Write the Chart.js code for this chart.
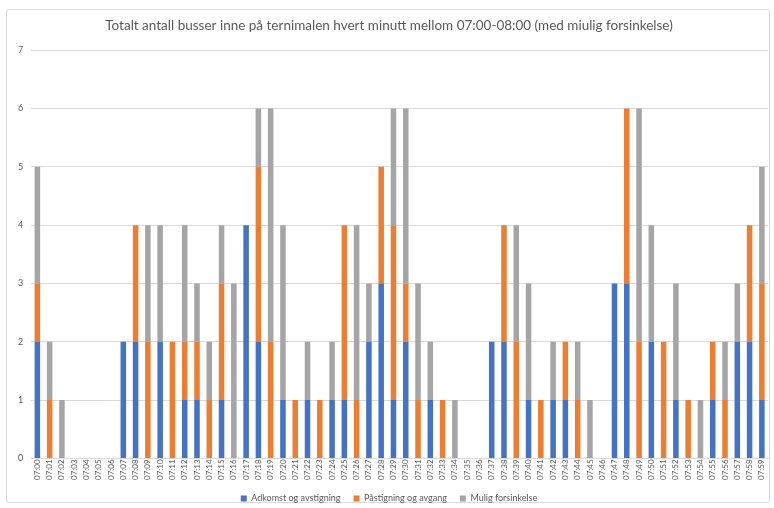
<!DOCTYPE html>
<html>
<head>
<meta charset="utf-8">
<script src="https://cdn.jsdelivr.net/npm/chart.js@4"></script>
<style>
  html, body { margin: 0; padding: 0; background: #fff; }
  #wrap { position: relative; width: 774px; height: 508px; }
  #frame { position: absolute; left: 6px; top: 9px; width: 764px; height: 494px;
           border: 1px solid #d9d9d9; border-radius: 3px; box-sizing: border-box; }
  #myChart { position: absolute; left: 0; top: 0; }
</style>
</head>
<body>
<div id="wrap">
  <div id="frame"></div>
  <canvas id="myChart" width="774" height="508"></canvas>
</div>
<script>
// minutes 07:00 .. 07:59
var minutes = [];
for (var m = 0; m < 60; m++) {
    minutes.push('07:' + (m < 10 ? '0' + m : m));
}

var adkomst = [2,0,0,0,0,0,0,2,2,0, 2,0,1,1,0,1,0,4,2,0,
               1,0,1,0,1,1,0,2,3,1, 2,0,1,0,0,0,0,2,2,0,
               1,0,1,1,0,0,0,3,3,0, 2,0,1,0,0,1,0,2,2,1];
var pastigning = [1,1,0,0,0,0,0,0,2,2, 0,2,1,1,1,2,0,0,3,2,
                  0,1,0,1,0,3,1,0,2,3, 1,1,0,1,0,0,0,0,2,2,
                  0,1,0,1,1,0,0,0,3,2, 0,2,0,1,0,1,1,0,2,2];
var forsinkelse = [2,1,1,0,0,0,0,0,0,2, 2,0,2,1,1,1,3,0,1,4,
                   3,0,1,0,1,0,3,1,0,2, 3,2,1,0,1,0,0,0,0,2,
                   2,0,1,0,1,1,0,0,0,4, 2,0,2,0,1,0,1,1,0,2];
var yTicks = [0, 1, 2, 3, 4, 5, 6, 7];

var ctx = document.getElementById('myChart').getContext('2d');
Chart.defaults.font.family = 'Lato, "Liberation Sans", sans-serif';
Chart.defaults.color = '#595959';

// keep the legend box short so it sits close under the axis labels
var legendHeight = {
    id: 'legendHeight',
    beforeInit: function (chart) {
        var fit = chart.legend.fit;
        chart.legend.fit = function () {
            fit.call(this);
            this.height = 27;
        };
    }
};

new Chart(ctx, {
    type: 'bar',
    data: {
        labels: minutes,
        datasets: [
            { label: 'Adkomst og avstigning', data: adkomst, backgroundColor: '#4472C4' },
            { label: 'Påstigning og avgang', data: pastigning, backgroundColor: '#ED7D31' },
            { label: 'Mulig forsinkelse', data: forsinkelse, backgroundColor: '#A5A5A5' }
        ]
    },
    options: {
        responsive: false,
        animation: false,
        layout: { padding: { left: 10, right: 6, top: 0, bottom: 0 } },
        datasets: { bar: { barPercentage: 0.45, categoryPercentage: 1 } },
        scales: {
            x: {
                stacked: true,
                grid: { display: false, drawTicks: false },
                border: { color: '#d9d9d9' },
                ticks: { minRotation: 90, maxRotation: 90, autoSkip: false,
                         font: { size: 8 }, padding: 1 }
            },
            y: {
                stacked: true,
                min: 0,
                max: 7,
                afterBuildTicks: function (axis) {
                    axis.ticks = yTicks.map(function (v) { return { value: v }; });
                },
                grid: { color: '#d9d9d9', drawTicks: false },
                border: { display: false },
                ticks: { font: { size: 9 }, padding: 8 }
            }
        },
        plugins: {
            title: {
                display: true,
                text: 'Totalt antall busser inne på ternimalen hvert minutt mellom 07:00-08:00 (med miulig forsinkelse)',
                font: { size: 13.5, weight: 'normal' },
                color: '#595959',
                padding: { top: 18, bottom: 16 }
            },
            legend: {
                position: 'bottom',
                labels: { boxWidth: 6, boxHeight: 6, font: { size: 9 }, padding: 13 }
            },
            tooltip: { enabled: false }
        }
    },
    plugins: [legendHeight]
});
</script>
</body>
</html>
